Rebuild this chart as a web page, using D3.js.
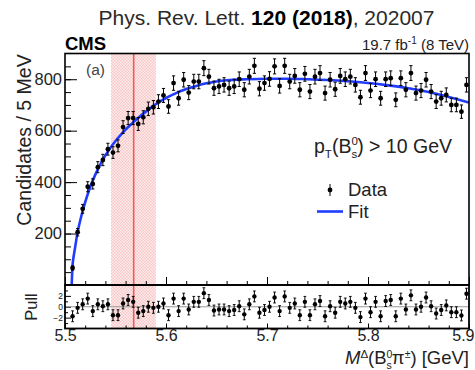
<!DOCTYPE html>
<html><head><meta charset="utf-8">
<script src="https://cdn.jsdelivr.net/npm/d3@7"></script>
<style>body{margin:0;background:#fff}svg{display:block}</style>
</head><body>
<svg id="c" width="475" height="370"></svg>
<script>
// ---- data ----
const binStart = 5.505;      // first filled bin lower edge (GeV)
const binWidth = 0.005;      // 5 MeV bins
const counts = [66,205,296,382,393,458,486,528,515,541,
  614,649,649,626,652,685,691,713,737,694,
  785,726,798,748,791,791,843,810,765,772,
  778,765,772,800,759,810,852,763,785,801,
  850,774,852,791,813,759,821,752,810,824,
  746,798,761,813,800,810,778,730,824,756,
  800,726,800,804,720,804,759,824,746,756,
  798,752,713,726,739,700,700,674,778];
const pulls = [-1.75,-0.2,0.45,1.5,-0.8,0.45,0.1,0.45,-1.55,-1.55,
  0.6,1.25,0.9,-1.1,-0.8,0,-0.2,0,0.6,-1.55,
  1.5,-0.8,1.5,-0.5,0.9,0.9,2.5,1.25,-0.7,-0.5,
  -0.5,-0.8,-0.6,0.1,-1.4,0.45,1.9,-1.1,-0.6,0,
  1.7,-0.8,1.9,-0.2,0.6,-1.55,0.9,-1.55,0.45,1.05,
  -1.75,0.1,-1.1,0.9,0.6,0.9,-0.2,-1.9,1.5,-1.0,
  0.9,-1.75,1.05,1.25,-1.75,1.5,-0.5,2.1,-0.5,0,
  1.7,0.1,-1.25,-0.6,0.25,-1.0,-1.0,-1.6,2.4];
const fitMass = [5.5066,5.507,5.5075,5.508,5.509,5.510,5.5125,5.515,5.520,5.525,5.530,5.535,5.540,5.545,5.550,5.555,5.560,5.565,5.570,5.575,5.580,5.585,5.590,5.595,5.600,5.610,5.620,5.630,5.640,5.650,5.660,5.680,5.700,5.720,5.740,5.760,5.780,5.800,5.820,5.840,5.860,5.880,5.900];
const fitVal  = [0,38,78,96,122,146,206,250,322,381,429,469,504,534,560,583,604,623,641,658,674,689,703,716,727,746,762,774,784,791,796,800,802,802,800,797,792,785,776,765,750,731,709];
const xTicks = [5.5,5.6,5.7,5.8,5.9];
const yTicks = [200,400,600,800];
const pullTicks = [-2,0,2];
const band = [5.5455,5.590];
const markerMass = 5.568;

// ---- layout ----
const svg = d3.select("#c");
const L=65,R=469,T=53.5,MB=285,PB=328.5;
const FONT = "'Liberation Sans', Arial, Helvetica, sans-serif";
const x = d3.scaleLinear([5.5,5.9],[L,R]);
const y = d3.scaleLinear([0,900],[MB,T]);
const yp = d3.scaleLinear([-4,4],[PB,MB]);

const defs = svg.append("defs");
const pat = defs.append("pattern").attr("id","hatch").attr("width",3).attr("height",3).attr("patternUnits","userSpaceOnUse");
pat.append("rect").attr("width",3).attr("height",3).attr("fill","#fdeeee");
pat.append("rect").attr("width",1.5).attr("height",1.5).attr("fill","#f8c6c6");
pat.append("rect").attr("x",1.5).attr("y",1.5).attr("width",1.5).attr("height",1.5).attr("fill","#f8c6c6");
defs.append("clipPath").attr("id","cm").append("rect").attr("x",L).attr("y",T).attr("width",R-L).attr("height",MB-T);
defs.append("clipPath").attr("id","cp").append("rect").attr("x",L).attr("y",MB).attr("width",R-L).attr("height",PB-MB);

// title texts
const title = svg.append("text").attr("x",266.5).attr("y",25).attr("text-anchor","middle")
  .attr("font-family",FONT).attr("font-size",21).attr("fill","#2a2a2a");
title.append("tspan").text("Phys. Rev. Lett. ");
title.append("tspan").attr("font-weight","bold").attr("fill","#000").text("120 (2018)");
title.append("tspan").text(", 202007");

svg.append("text").attr("x",L).attr("y",49.5).attr("font-family",FONT).attr("font-weight","bold")
  .attr("font-size",18.5).text("CMS");
const lumi = svg.append("text").attr("x",R).attr("y",49.5).attr("text-anchor","end")
  .attr("font-family",FONT).attr("font-size",15).attr("fill","#222");
lumi.append("tspan").text("19.7 fb");
lumi.append("tspan").attr("font-size",10).attr("dy",-6).text("-1");
lumi.append("tspan").attr("dy",6).text(" (8 TeV)");

// band + marker line (both panels)
svg.append("rect").attr("x",x(band[0])).attr("y",T).attr("width",x(band[1])-x(band[0])).attr("height",PB-T)
  .attr("fill","url(#hatch)");
svg.append("line").attr("x1",x(markerMass)).attr("x2",x(markerMass)).attr("y1",T).attr("y2",PB)
  .attr("stroke","#f05a5a").attr("stroke-width",1.6);

// main panel axes
function ax(g, axis){ g.call(axis); g.select(".domain").remove(); g.selectAll("line").attr("stroke","#000"); return g; }
ax(svg.append("g").attr("transform",`translate(${L},0)`),
  d3.axisLeft(y).tickValues(d3.range(50,900,50)).tickSize(-6).tickFormat(""));
const yAx = ax(svg.append("g").attr("transform",`translate(${L},0)`),
  d3.axisLeft(y).tickValues(yTicks).tickSize(-12).tickPadding(3));
yAx.selectAll("text").attr("font-family",FONT).attr("font-size",16.5).attr("fill","#222");
ax(svg.append("g").attr("transform",`translate(0,${MB})`),
  d3.axisBottom(x).tickValues(d3.range(5.52,5.9,0.02)).tickSize(-4).tickFormat(""));
ax(svg.append("g").attr("transform",`translate(0,${MB})`),
  d3.axisBottom(x).tickValues(xTicks).tickSize(-8).tickFormat(""));

// pull panel axes
ax(svg.append("g").attr("transform",`translate(0,${PB})`),
  d3.axisBottom(x).tickValues(d3.range(5.52,5.9,0.02)).tickSize(-3).tickFormat(""));
const xAx = ax(svg.append("g").attr("transform",`translate(0,${PB})`),
  d3.axisBottom(x).tickValues(xTicks).tickSize(-5).tickPadding(1.5).tickFormat(d3.format(".1f")));
xAx.selectAll("text").attr("font-family",FONT).attr("font-size",16).attr("fill","#222");
xAx.selectAll("text").filter(d=>d===5.9).attr("text-anchor","end").attr("x",474-R);
ax(svg.append("g").attr("transform",`translate(${L},0)`),
  d3.axisLeft(yp).tickValues([-3,-1,1,3]).tickSize(-3).tickFormat(""));
const pAx = ax(svg.append("g").attr("transform",`translate(${L},0)`),
  d3.axisLeft(yp).tickValues(pullTicks).tickSize(-6).tickPadding(2).tickFormat(d=> d<0? "\u2212"+(-d): d));
pAx.selectAll("text").attr("font-family",FONT).attr("font-size",8.5).attr("fill","#222");

// zero line in pull panel
svg.append("line").attr("x1",L).attr("x2",R).attr("y1",yp(0)).attr("y2",yp(0)).attr("stroke","#999").attr("stroke-width",1);

// fit curve
const fitData = fitMass.map((m,i)=>[m,fitVal[i]]);
svg.append("path").datum(fitData).attr("clip-path","url(#cm)")
  .attr("d", d3.line().x(d=>x(d[0])).y(d=>y(d[1])).curve(d3.curveMonotoneX))
  .attr("fill","none").attr("stroke","#1f3cff").attr("stroke-width",2.6);

// data points
const mass = i => binStart + binWidth*i + binWidth/2;
const pts = svg.append("g").attr("clip-path","url(#cm)");
counts.forEach((c,i)=>{
  const cx = x(mass(i)), e = Math.sqrt(c);
  pts.append("line").attr("x1",cx).attr("x2",cx).attr("y1",y(c-e)).attr("y2",y(c+e)).attr("stroke","#000").attr("stroke-width",1);
  [c-e,c+e].forEach(v=>pts.append("line").attr("x1",cx-1.6).attr("x2",cx+1.6).attr("y1",y(v)).attr("y2",y(v)).attr("stroke","#000").attr("stroke-width",1));
  pts.append("circle").attr("cx",cx).attr("cy",y(c)).attr("r",2.4).attr("fill","#000");
});
const pp = svg.append("g").attr("clip-path","url(#cp)");
pulls.forEach((p,i)=>{
  const cx = x(mass(i));
  pp.append("line").attr("x1",cx).attr("x2",cx).attr("y1",yp(p-1)).attr("y2",yp(p+1)).attr("stroke","#000").attr("stroke-width",1);
  [p-1,p+1].forEach(v=>pp.append("line").attr("x1",cx-1.4).attr("x2",cx+1.4).attr("y1",yp(v)).attr("y2",yp(v)).attr("stroke","#000").attr("stroke-width",0.9));
  pp.append("circle").attr("cx",cx).attr("cy",yp(p)).attr("r",2.2).attr("fill","#000");
});

// frames
svg.append("rect").attr("x",L).attr("y",T).attr("width",R-L).attr("height",MB-T).attr("fill","none").attr("stroke","#000").attr("stroke-width",1.6);
svg.append("rect").attr("x",L).attr("y",MB).attr("width",R-L).attr("height",PB-MB).attr("fill","none").attr("stroke","#000").attr("stroke-width",1.8);

// labels
svg.append("text").attr("x",86).attr("y",75).attr("font-family",FONT).attr("font-size",15.5).attr("fill","#444").text("(a)");
svg.append("text").attr("transform","translate(31,140) rotate(-90)").attr("text-anchor","middle")
  .attr("font-family",FONT).attr("font-size",19.5).attr("fill","#222").text("Candidates / 5 MeV");
svg.append("text").attr("transform","translate(37,307) rotate(-90)").attr("text-anchor","middle")
  .attr("font-family",FONT).attr("font-size",16.5).attr("fill","#222").text("Pull");

const xt = svg.append("text").attr("x",R).attr("y",364).attr("text-anchor","end")
  .attr("font-family",FONT).attr("font-size",18.5).attr("fill","#222");
xt.append("tspan").attr("font-style","italic").text("M");
xt.append("tspan").attr("font-size",11.5).attr("dy",-6.5).text("Δ");
xt.append("tspan").attr("dy",6.5).text("(B");
xt.append("tspan").attr("font-size",10.5).attr("dy",-6.5).text("0");
xt.append("tspan").attr("font-size",10.5).attr("dx",-5.8).attr("dy",11).text("s");
xt.append("tspan").attr("dy",-4.5).text("π");
xt.append("tspan").attr("font-size",10.5).attr("dy",-6.5).text("±");
xt.append("tspan").attr("dy",6.5).text(") [GeV]");

const pt = svg.append("text").attr("x",314).attr("y",153)
  .attr("font-family",FONT).attr("font-size",19.5).attr("fill","#222");
pt.append("tspan").text("p");
pt.append("tspan").attr("font-size",11.5).attr("dy",4.5).text("T");
pt.append("tspan").attr("dy",-4.5).text("(B");
pt.append("tspan").attr("font-size",11.5).attr("dy",-8).text("0");
pt.append("tspan").attr("font-size",11.5).attr("dx",-6.4).attr("dy",12.5).text("s");
pt.append("tspan").attr("dy",-4.5).text(") > 10 GeV");

// legend
const lx = 330;
svg.append("line").attr("x1",lx).attr("x2",lx).attr("y1",184).attr("y2",196).attr("stroke","#000").attr("stroke-width",1);
svg.append("circle").attr("cx",lx).attr("cy",190).attr("r",2.4).attr("fill","#000");
svg.append("text").attr("x",348).attr("y",196).attr("font-family",FONT).attr("font-size",18.5).attr("fill","#222").text("Data");
svg.append("line").attr("x1",317).attr("x2",343).attr("y1",211.5).attr("y2",211.5).attr("stroke","#1f3cff").attr("stroke-width",2.6);
svg.append("text").attr("x",348).attr("y",218).attr("font-family",FONT).attr("font-size",18.5).attr("fill","#222").text("Fit");
</script>
</body></html>
